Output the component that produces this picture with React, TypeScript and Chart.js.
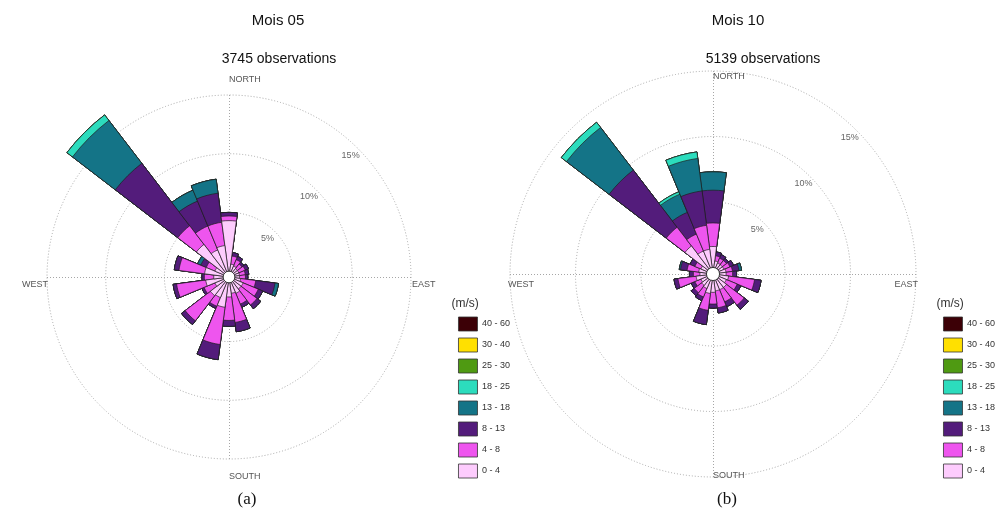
import React, { useEffect, useRef } from 'react';
import { Chart, registerables } from 'chart.js';

Chart.register(...registerables);
Chart.defaults.font.family = '"Liberation Sans", Arial, sans-serif';

// ---------- data ----------
const DIRECTIONS = ['0°', '15°', '30°', '45°', '60°', '75°', '90°', '105°', '120°', '135°', '150°', '165°',
  '180°', '195°', '210°', '225°', '240°', '255°', '270°', '285°', '300°', '315°', '330°', '345°'];
const SPEED_CLASSES = ['0 - 4', '4 - 8', '8 - 13', '13 - 18', '18 - 25', '25 - 30', '30 - 40', '40 - 60'];
const TICK_VALUES = [5, 10, 15];
const TICK_LABELS = ['5%', '10%', '15%'];

// Mois 05 : frequency (%) per direction for each speed class
const MAY_0_4 = [4.3, 0.6, 0.5, 0.4, 0.4, 0.4, 0.4, 0.5, 0.8, 0.8, 1.0, 0.9, 1.2, 2.1, 1.4, 1.5, 0.8, 1.5, 0.8, 1.6, 0.8, 3.0, 2.0, 2.2];
const MAY_4_8 = [0.4, 0.7, 0.6, 0.5, 0.6, 0.5, 0.5, 1.3, 1.4, 1.7, 1.0, 2.5, 2.0, 3.2, 0.8, 2.7, 1.0, 2.5, 0.8, 2.2, 0.8, 2.0, 2.2, 2.0];
const MAY_8_13 = [0.3, 0.3, 0.3, 0.2, 0.3, 0.3, 0.2, 1.65, 0.4, 0.4, 0.3, 0.8, 0.5, 1.3, 0.2, 0.4, 0.2, 0.3, 0.2, 0.4, 0.5, 6.7, 2.3, 2.5];
const MAY_13_18 = [0, 0, 0, 0, 0, 0, 0, 0.3, 0, 0, 0, 0, 0, 0, 0, 0, 0, 0, 0, 0, 0.3, 4.6, 1.0, 1.2];
const MAY_18_25 = [0, 0, 0, 0, 0, 0, 0, 0, 0, 0, 0, 0, 0, 0, 0, 0, 0, 0, 0, 0, 0, 0.6, 0, 0];
const MAY_25_30 = [0, 0, 0, 0, 0, 0, 0, 0, 0, 0, 0, 0, 0, 0, 0, 0, 0, 0, 0, 0, 0, 0, 0, 0];
const MAY_30_40 = [0, 0, 0, 0, 0, 0, 0, 0, 0, 0, 0, 0, 0, 0, 0, 0, 0, 0, 0, 0, 0, 0, 0, 0];
const MAY_40_60 = [0, 0, 0, 0, 0, 0, 0, 0, 0, 0, 0, 0, 0, 0, 0, 0, 0, 0, 0, 0, 0, 0, 0, 0];

// Mois 10 : frequency (%) per direction for each speed class
const OCT_0_4 = [1.6, 0.5, 0.4, 0.4, 0.4, 0.5, 0.5, 0.7, 0.6, 0.8, 0.8, 0.8, 0.9, 1.0, 0.7, 0.6, 0.5, 0.8, 0.5, 0.6, 0.5, 2.2, 1.4, 1.4];
const OCT_4_8 = [1.8, 0.4, 0.4, 0.4, 0.5, 0.5, 0.5, 2.0, 0.9, 1.7, 1.0, 1.3, 0.9, 1.3, 0.7, 0.7, 0.5, 1.4, 0.5, 0.9, 0.5, 1.8, 1.4, 1.85];
const OCT_8_13 = [2.5, 0.3, 0.3, 0.2, 0.3, 0.5, 0.3, 0.5, 0.3, 0.4, 0.4, 0.4, 0.3, 1.1, 0.3, 0.3, 0.3, 0.3, 0.3, 0.5, 0.4, 5.5, 1.8, 2.65];
const OCT_13_18 = [1.4, 0, 0, 0, 0, 0.2, 0, 0, 0, 0, 0, 0, 0, 0, 0, 0, 0, 0, 0, 0.1, 0, 4.1, 1.5, 2.5];
const OCT_18_25 = [0, 0, 0, 0, 0, 0, 0, 0, 0, 0, 0, 0, 0, 0, 0, 0, 0, 0, 0, 0, 0, 0.5, 0.2, 0.5];
const OCT_25_30 = [0, 0, 0, 0, 0, 0, 0, 0, 0, 0, 0, 0, 0, 0, 0, 0, 0, 0, 0, 0, 0, 0, 0, 0];
const OCT_30_40 = [0, 0, 0, 0, 0, 0, 0, 0, 0, 0, 0, 0, 0, 0, 0, 0, 0, 0, 0, 0, 0, 0, 0, 0];
const OCT_40_60 = [0, 0, 0, 0, 0, 0, 0, 0, 0, 0, 0, 0, 0, 0, 0, 0, 0, 0, 0, 0, 0, 0, 0, 0];

const MAY_SERIES = [MAY_0_4, MAY_4_8, MAY_8_13, MAY_13_18, MAY_18_25, MAY_25_30, MAY_30_40, MAY_40_60];
const OCT_SERIES = [OCT_0_4, OCT_4_8, OCT_8_13, OCT_13_18, OCT_18_25, OCT_25_30, OCT_30_40, OCT_40_60];

// ---------- styles ----------
const CLASS_COLORS = ['#fdccfd', '#ee55ee', '#531c7b', '#147487', '#2cdcbd', '#4f9a12', '#ffe000', '#3c0006'];
const FONT = '"Liberation Sans", Arial, sans-serif';
const GRID_COLOR = '#a6a6a6';

type LabelSpec = { text: string; ux: number; uy: number; ox: number; oy: number; align: CanvasTextAlign };

function makeDecor(compass: LabelSpec[], pctGap: number) {
  return {
    id: 'roseDecor',
    beforeDatasetsDraw(chart: any) {
      const s = chart.scales.r;
      const cx = s.xCenter, cy = s.yCenter, R = s.drawingArea;
      const ctx = chart.ctx as CanvasRenderingContext2D;
      ctx.save();
      ctx.strokeStyle = GRID_COLOR;
      ctx.lineWidth = 1;
      ctx.setLineDash([1, 2]);
      ctx.beginPath();
      ctx.moveTo(cx - R, cy + 0.5);
      ctx.lineTo(cx + R, cy + 0.5);
      ctx.moveTo(cx + 0.5, cy - R);
      ctx.lineTo(cx + 0.5, cy + R);
      ctx.stroke();
      ctx.restore();
    },
    afterDatasetsDraw(chart: any) {
      const s = chart.scales.r;
      const cx = s.xCenter, cy = s.yCenter, R = s.drawingArea;
      const ctx = chart.ctx as CanvasRenderingContext2D;
      ctx.save();
      // calm circle at the 0 % baseline
      const r0 = s.getDistanceFromCenterForValue(0);
      ctx.beginPath();
      ctx.arc(cx, cy, r0, 0, Math.PI * 2);
      ctx.fillStyle = '#ffffff';
      ctx.fill();
      ctx.strokeStyle = '#333';
      ctx.lineWidth = 1;
      ctx.stroke();
      // percentage labels
      ctx.font = `9px ${FONT}`;
      ctx.fillStyle = '#666';
      ctx.textAlign = 'center';
      ctx.textBaseline = 'middle';
      TICK_VALUES.forEach((v, i) => {
        const d = s.getDistanceFromCenterForValue(v) - pctGap;
        ctx.fillText(TICK_LABELS[i], cx + d * Math.SQRT1_2, cy - d * Math.SQRT1_2);
      });
      // compass labels
      ctx.fillStyle = '#555';
      ctx.textBaseline = 'alphabetic';
      compass.forEach((l) => {
        ctx.textAlign = l.align;
        ctx.fillText(l.text, cx + l.ux * R + l.ox, cy + l.uy * R + l.oy);
      });
      ctx.restore();
    },
  };
}

type RoseProps = {
  series: number[][];
  width: number;
  height: number;
  padding: { left: number; right: number; top: number; bottom: number };
  tickFont: number;
  tickPad: number;
  compass: LabelSpec[];
  pctGap: number;
};

function WindRose(props: RoseProps) {
  const ref = useRef<HTMLCanvasElement>(null);
  useEffect(() => {
    const cum: number[][] = [];
    props.series.forEach((s, k) => {
      cum.push(s.map((v, d) => v + (k > 0 ? cum[k - 1][d] : 0)));
    });
    const chart = new Chart(ref.current as HTMLCanvasElement, {
      type: 'polarArea',
      data: {
        labels: DIRECTIONS,
        datasets: cum.map((c, k) => ({
          label: SPEED_CLASSES[k],
          data: c,
          backgroundColor: CLASS_COLORS[k],
          borderColor: '#1e1e1e',
          borderWidth: 0.7,
        })),
      },
      options: {
        responsive: false,
        animation: false,
        layout: { padding: props.padding },
        scales: {
          r: {
            min: -0.5,
            max: 15,
            startAngle: -7.5,
            ticks: {
              stepSize: 5,
              display: true,
              color: 'rgba(0,0,0,0)',
              showLabelBackdrop: false,
              font: { size: props.tickFont },
              backdropPadding: props.tickPad,
              callback: () => '',
            },
            grid: {
              circular: true,
              color: (c: any) => (c.tick && c.tick.value > 0 ? GRID_COLOR : 'rgba(0,0,0,0)'),
              lineWidth: 1,
            },
            border: { dash: [1, 2] },
            angleLines: { display: false },
            pointLabels: { display: false },
          },
        },
        plugins: {
          tooltip: { enabled: false },
          legend: {
            position: 'right',
            align: 'end',
            reverse: true,
            title: {
              display: true,
              text: '(m/s)',
              position: 'start',
              color: '#333',
              font: { size: 12, lineHeight: 1 },
              padding: 0,
            },
            labels: {
              boxWidth: 19,
              boxHeight: 14,
              padding: 7,
              color: '#555',
              font: { size: 9 },
              generateLabels: (ch: any) =>
                ch.data.datasets.map((ds: any, i: number) => ({
                  text: ds.label,
                  fillStyle: ds.backgroundColor,
                  strokeStyle: '#333',
                  lineWidth: 0.8,
                  hidden: false,
                  datasetIndex: i,
                })),
            },
          },
        },
      } as any,
      plugins: [makeDecor(props.compass, props.pctGap) as any],
    });
    return () => chart.destroy();
  }, []);
  return <canvas ref={ref} width={props.width} height={props.height} style={{ display: 'block' }} />;
}

const LEFT_COMPASS: LabelSpec[] = [
  { text: 'NORTH', ux: 0, uy: -1, ox: 0, oy: -13, align: 'left' },
  { text: 'SOUTH', ux: 0, uy: 1, ox: 0, oy: 20, align: 'left' },
  { text: 'WEST', ux: -1, uy: 0, ox: 1, oy: 10, align: 'right' },
  { text: 'EAST', ux: 1, uy: 0, ox: 1, oy: 10, align: 'left' },
];
const RIGHT_COMPASS: LabelSpec[] = [
  { text: 'NORTH', ux: 0, uy: -1, ox: 0, oy: 8, align: 'left' },
  { text: 'SOUTH', ux: 0, uy: 1, ox: 0, oy: 1, align: 'left' },
  { text: 'WEST', ux: -1, uy: 0, ox: -2, oy: 13, align: 'left' },
  { text: 'EAST', ux: 1, uy: 0, ox: 2, oy: 13, align: 'right' },
];

function Text(p: { x: number; y: number; size: number; serif?: boolean; children: React.ReactNode }) {
  return (
    <div
      style={{
        position: 'absolute',
        left: p.x,
        top: p.y,
        transform: 'translateX(-50%)',
        whiteSpace: 'nowrap',
        fontFamily: p.serif ? '"Liberation Serif", "Times New Roman", serif' : FONT,
        fontSize: p.size,
        lineHeight: 1,
        color: '#111',
      }}
    >
      {p.children}
    </div>
  );
}

export default function App() {
  return (
    <div style={{ position: 'absolute', left: 0, top: 0, width: 1004, height: 513, background: '#fff', overflow: 'hidden' }}>
      <div style={{ position: 'absolute', left: 0, top: 0 }}>
        <WindRose
          series={MAY_SERIES}
          width={520}
          height={513}
          padding={{ left: 8, right: 0, top: 69, bottom: 28 }}
          tickFont={12}
          tickPad={20}
          compass={LEFT_COMPASS}
          pctGap={10}
        />
      </div>
      <div style={{ position: 'absolute', left: 490, top: 0 }}>
        <WindRose
          series={OCT_SERIES}
          width={515}
          height={513}
          padding={{ left: 0, right: 0, top: 64, bottom: 28 }}
          tickFont={11}
          tickPad={2}
          compass={RIGHT_COMPASS}
          pctGap={9.5}
        />
      </div>
      <Text x={278} y={12} size={15}>Mois 05</Text>
      <Text x={279} y={51} size={14}>3745 observations</Text>
      <Text x={738} y={12} size={15}>Mois 10</Text>
      <Text x={763} y={51} size={14}>5139 observations</Text>
      <Text x={247} y={490} size={17} serif>(a)</Text>
      <Text x={727} y={490} size={17} serif>(b)</Text>
    </div>
  );
}
